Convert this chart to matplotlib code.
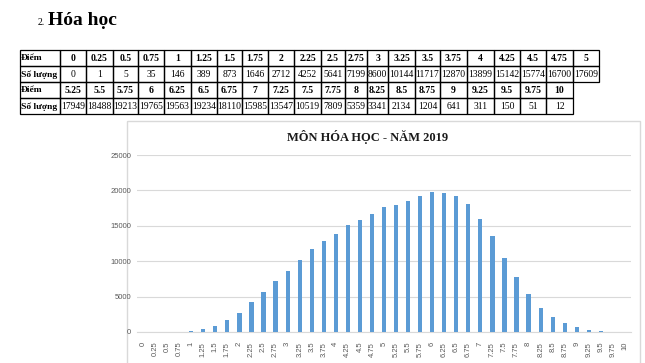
import matplotlib
matplotlib.use("Agg")
import matplotlib.pyplot as plt
from matplotlib.patches import Rectangle

# ---------------- data ----------------
scores = ["0", "0.25", "0.5", "0.75", "1", "1.25", "1.5", "1.75", "2", "2.25", "2.5",
          "2.75", "3", "3.25", "3.5", "3.75", "4", "4.25", "4.5", "4.75", "5",
          "5.25", "5.5", "5.75", "6", "6.25", "6.5", "6.75", "7", "7.25", "7.5",
          "7.75", "8", "8.25", "8.5", "8.75", "9", "9.25", "9.5", "9.75", "10"]
counts = [0, 1, 5, 35, 146, 389, 873, 1646, 2712, 4252, 5641,
          7199, 8600, 10144, 11717, 12870, 13899, 15142, 15774, 16700, 17609,
          17949, 18488, 19213, 19765, 19563, 19234, 18110, 15985, 13547, 10519,
          7809, 5359, 3341, 2134, 1204, 641, 311, 150, 51, 12]
row_label_score = "Điểm"
row_label_count = "Số lượng"
heading_num = "2."
heading_text = "Hóa học"
chart_title = "MÔN HÓA HỌC - NĂM 2019"
y_ticks = [0, 5000, 10000, 15000, 20000, 25000]

# ---------------- figure ----------------
W, H = 645, 363
fig = plt.figure(figsize=(W / 100, H / 100), dpi=100)
fig.patch.set_facecolor("white")

bg = fig.add_axes([0, 0, 1, 1])
bg.set_xlim(0, W)
bg.set_ylim(H, 0)
bg.axis("off")

serif = ["Liberation Serif", "DejaVu Serif"]

# heading
bg.text(38, 25, heading_num, fontsize=7, family=serif, ha="left", va="baseline")
bg.text(48, 25, heading_text, fontsize=14, family=serif, fontweight="bold",
        ha="left", va="baseline")

# ---------------- table ----------------
col_w = [40, 26, 27, 25, 26, 27, 26, 25, 26, 26, 27, 24, 22, 21, 27, 25, 27, 27, 26, 26, 27, 26]
row_y = [50, 66, 82, 98, 114]
x0 = 20

def draw_block(r0, labels, values):
    x = x0
    cells = [(row_label_score, row_label_count)] + list(zip(labels, [str(v) for v in values]))
    for j, (s, c) in enumerate(cells):
        w = col_w[j]
        for k, txt in enumerate((s, c)):
            ytop = row_y[r0 + k]
            h = row_y[r0 + k + 1] - ytop
            bg.add_patch(Rectangle((x, ytop), w, h, fill=False, edgecolor="black", lw=0.9))
            bold = (k == 0) or (j == 0)
            if j == 0:
                bg.text(x + 1.0, ytop + h / 2 + 0.5, txt, fontsize=6.8, family=serif,
                        fontweight="bold", ha="left", va="center")
            else:
                bg.text(x + w / 2, ytop + h / 2 + 0.5, txt, fontsize=7.0 if bold else 6.9,
                        family=serif, fontweight="bold" if bold else "normal",
                        ha="center", va="center")
        x += w

draw_block(0, scores[:21], counts[:21])
draw_block(2, scores[21:], counts[21:])

# chart frame
bg.add_patch(Rectangle((127, 121), 513, 260, fill=False, edgecolor="#D9D9D9", lw=1.0))

# chart title
bg.text(368, 137, chart_title, fontsize=9, family=serif, fontweight="bold",
        ha="center", va="center", color="#1a1a1a")

# ---------------- bar chart ----------------
left, right, top, bottom = 137, 631, 155, 332
ax = fig.add_axes([left / W, 1 - bottom / H, (right - left) / W, (bottom - top) / H])
xs = list(range(len(scores)))
ax.bar(xs, counts, width=0.35, color="#5B9BD5", zorder=3)
ax.set_xlim(-0.5, len(scores) - 0.5)
ax.set_ylim(0, 25000)
ax.set_yticks(y_ticks)
ax.set_yticklabels([str(t) for t in y_ticks])
ax.set_xticks(xs)
ax.set_xticklabels(scores, rotation=90)
ax.grid(axis="y", color="#D9D9D9", lw=0.8, zorder=0)
for s in ["top", "right", "left"]:
    ax.spines[s].set_visible(False)
ax.spines["bottom"].set_color("#D9D9D9")
ax.spines["bottom"].set_linewidth(0.8)
ax.tick_params(axis="both", length=0, colors="#595959")
ax.tick_params(axis="x", pad=7, labelsize=5.5)
ax.tick_params(axis="y", pad=4.3, labelsize=5.5)
for lab in ax.get_xticklabels() + ax.get_yticklabels():
    lab.set_family(["Liberation Sans", "DejaVu Sans"])
ax.set_facecolor("none")

fig.savefig("out.png", dpi=100)
